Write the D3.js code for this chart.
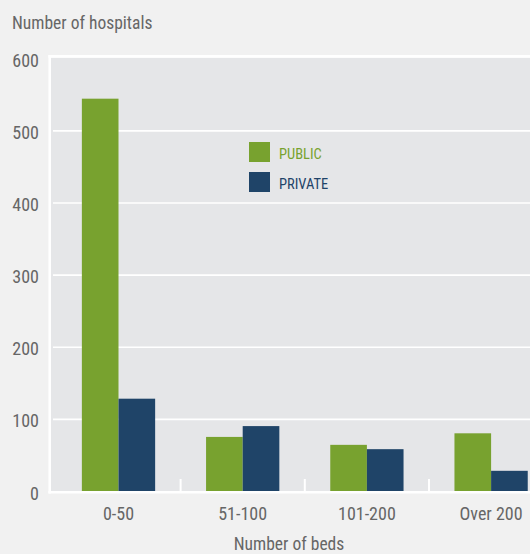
<!DOCTYPE html>
<html><head><meta charset="utf-8">
<script src="https://cdn.jsdelivr.net/npm/d3@7"></script>
<style>
html,body{margin:0;padding:0;background:#f1f1f1;}
svg{display:block;}
text{font-family:"Liberation Sans Narrow","Arial Narrow","Roboto Condensed","Liberation Sans",sans-serif;fill:#666666;}
</style></head>
<body>
<svg id="chart" width="530" height="554"></svg>
<script>
const categories = ["0-50", "51-100", "101-200", "Over 200"];
const seriesNames = ["PUBLIC", "PRIVATE"];
const publicValues = [544, 75, 64, 80];
const privateValues = [128, 90, 58, 28];
const yTicks = [0, 100, 200, 300, 400, 500, 600];
const colors = ["#78a22f", "#1f4468"];

const svg = d3.select("#chart");
const W = 530, H = 554;
svg.append("rect").attr("width", W).attr("height", H).attr("fill", "#f1f1f1");

const plot = {left: 51, top: 58, right: 530, bottom: 491};
const y = d3.scaleLinear().domain([0, 600]).range([491, 58.3]);
const x = d3.scaleBand().domain(categories).range([56.4, 553.2]).paddingInner(0.41).paddingOuter(0.205);
const xs = d3.scaleBand().domain(seriesNames).range([0, x.bandwidth()]);

// plot background
svg.append("rect").attr("x", plot.left).attr("y", plot.top)
  .attr("width", plot.right - plot.left).attr("height", plot.bottom - plot.top)
  .attr("fill", "#e5e6e8");

// gridlines
const yAxis = d3.axisLeft(y).tickValues(yTicks.filter(v => v > 0 && v < 600)).tickSize(-(plot.right - 53)).tickFormat("");
svg.append("g").attr("transform", "translate(53,0)").call(yAxis)
  .call(g => g.select(".domain").remove())
  .call(g => g.selectAll(".tick line").attr("stroke", "#ffffff").attr("stroke-width", 1.6));

// y tick labels
svg.append("g").selectAll("text").data(yTicks).join("text")
  .attr("x", 39).attr("y", d => y(d) + 8.5)
  .attr("text-anchor", "end").attr("font-size", 18).text(d => d);

// bars
const data = categories.map((c, i) => ({cat: c, vals: [publicValues[i], privateValues[i]]}));
const groups = svg.append("g").selectAll("g").data(data).join("g")
  .attr("transform", d => `translate(${x(d.cat)},0)`);
groups.selectAll("rect").data(d => d.vals.map((v, j) => ({name: seriesNames[j], v, j})))
  .join("rect")
  .attr("x", d => xs(d.name)).attr("width", xs.bandwidth())
  .attr("y", d => y(d.v)).attr("height", d => y(0) - y(d.v))
  .attr("fill", d => colors[d.j]);

// borders
svg.append("line").attr("x1", 49.7).attr("x2", 49.7).attr("y1", 55).attr("y2", 493.5)
  .attr("stroke", "#fff").attr("stroke-width", 2.6);
svg.append("line").attr("x1", 48.4).attr("x2", 530).attr("y1", 56.4).attr("y2", 56.4)
  .attr("stroke", "#fff").attr("stroke-width", 2.6);
svg.append("line").attr("x1", 48.4).attr("x2", 530).attr("y1", 492.2).attr("y2", 492.2)
  .attr("stroke", "#fff").attr("stroke-width", 2.6);

// x axis ticks (between categories)
const step = x.step();
const tickPos = categories.slice(0, -1).map(c => x(c) + x.bandwidth() + (step - x.bandwidth()) / 2);
svg.append("g").selectAll("line").data(tickPos).join("line")
  .attr("x1", d => d).attr("x2", d => d).attr("y1", 479).attr("y2", 491)
  .attr("stroke", "#fff").attr("stroke-width", 2);

// x labels
svg.append("g").selectAll("text").data(categories).join("text")
  .attr("x", d => x(d) + x.bandwidth() / 2).attr("y", 520)
  .attr("text-anchor", "middle").attr("font-size", 18).text(d => d);

// axis titles
svg.append("text").attr("x", 12).attr("y", 29).attr("font-size", 17.5).text("Number of hospitals");
svg.append("text").attr("x", 289).attr("y", 550).attr("text-anchor", "middle").attr("font-size", 17.5).text("Number of beds");

// legend
const legend = svg.append("g").selectAll("g").data(seriesNames).join("g")
  .attr("transform", (d, i) => `translate(249,${142 + i * 30})`);
legend.append("rect").attr("width", 21).attr("height", 20).attr("fill", (d, i) => colors[i]);
legend.append("text").attr("x", 30).attr("y", 16.5).attr("font-size", 14.5)
  .style("fill", (d, i) => i === 0 ? "#78a22f" : "#1f4468").text(d => d);
</script>
</body></html>
